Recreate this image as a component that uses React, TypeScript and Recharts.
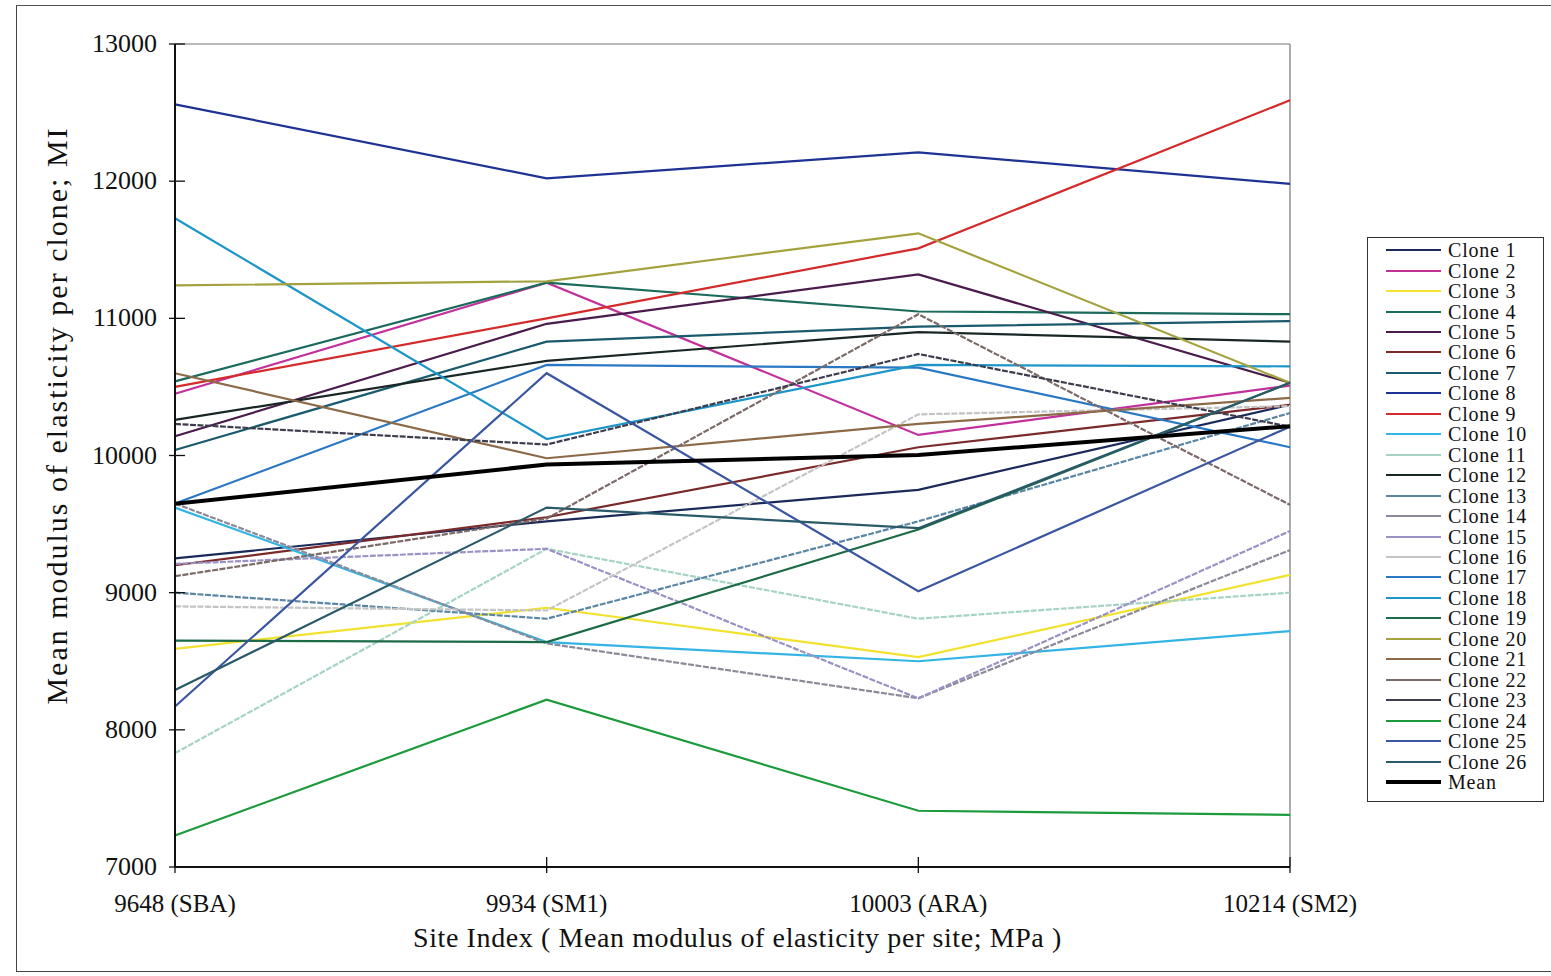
import { LineChart, Line, XAxis, YAxis, ReferenceLine, Label } from 'recharts';

// Site index (mean MOE per site) and site codes
const sites = ['9648 (SBA)', '9934 (SM1)', '10003 (ARA)', '10214 (SM2)'];
const yTicks = [7000, 8000, 9000, 10000, 11000, 12000, 13000];

// Mean MOE per clone at each site
const clone1 = [9250, 9520, 9750, 10370];
const clone2 = [10450, 11260, 10150, 10510];
const clone3 = [8590, 8890, 8530, 9130];
const clone4 = [10540, 11260, 11050, 11030];
const clone5 = [10140, 10960, 11320, 10530];
const clone6 = [9200, 9550, 10060, 10370];
const clone7 = [10040, 10830, 10940, 10980];
const clone8 = [12560, 12020, 12210, 11980];
const clone9 = [10500, 11000, 11510, 12590];
const clone10 = [9620, 8640, 8500, 8720];
const clone11 = [7830, 9320, 8810, 9000];
const clone12 = [10260, 10690, 10900, 10830];
const clone13 = [9000, 8810, 9520, 10310];
const clone14 = [9650, 8630, 8230, 9310];
const clone15 = [9210, 9320, 8230, 9450];
const clone16 = [8900, 8870, 10300, 10360];
const clone17 = [9650, 10660, 10640, 10060];
const clone18 = [11730, 10120, 10660, 10650];
const clone19 = [8650, 8640, 9460, 10530];
const clone20 = [11240, 11270, 11620, 10530];
const clone21 = [10600, 9980, 10230, 10420];
const clone22 = [9120, 9540, 11030, 9640];
const clone23 = [10230, 10080, 10740, 10210];
const clone24 = [7230, 8220, 7410, 7380];
const clone25 = [8170, 10600, 9010, 10210];
const clone26 = [8290, 9620, 9470, 10530];
const meanMoe = [9648, 9934, 10003, 10214];

const cloneValues = [
  clone1, clone2, clone3, clone4, clone5, clone6, clone7, clone8, clone9, clone10,
  clone11, clone12, clone13, clone14, clone15, clone16, clone17, clone18, clone19, clone20,
  clone21, clone22, clone23, clone24, clone25, clone26,
];

const cloneColors = [
  '#1c2a5a', '#c2309c', '#f2e22e', '#1b6a5c', '#4a1c4c', '#7a2a2a', '#1a5a6c', '#1e3294',
  '#d42a2a', '#34b4e4', '#a6d4c4', '#1a2626', '#5a86a4', '#8c8a98', '#9a92c4', '#c4c4c4',
  '#2a78c4', '#1c96c8', '#1c6a46', '#a4a23e', '#8c6a48', '#7a6a68', '#3c3c4c', '#1c9a3c',
  '#3a56a0', '#2a5a6a',
];

const dotted = [11, 13, 14, 15, 16, 22, 23];

const data = sites.map((site, i) => {
  const row: any = { site, mean: meanMoe[i] };
  cloneValues.forEach((vals, c) => {
    row[`c${c + 1}`] = vals[i];
  });
  return row;
});

const FONT = '"Liberation Serif", "Times New Roman", serif';

const XTick = ({ x, y, payload }: any) => (
  <g>
    <line x1={x} x2={x} y1={y - 10} y2={y + 6} stroke="#111" strokeWidth={1.3} />
    <text x={x} y={y + 45} textAnchor="middle" fontSize={25} fontFamily={FONT} fill="#111">
      {payload.value}
    </text>
  </g>
);

const YTick = ({ x, y, payload }: any) => (
  <g>
    <line x1={x - 6} x2={x + 10} y1={y} y2={y} stroke="#111" strokeWidth={1.3} />
    <text x={x - 18} y={y + 8} textAnchor="end" fontSize={26} fontFamily={FONT} fill="#111">
      {payload.value}
    </text>
  </g>
);

export default function App() {
  return (
    <div style={{ position: 'absolute', left: 0, top: 0, width: 1551, height: 976, background: '#fff', overflow: 'hidden' }}>
      <div
        style={{
          position: 'absolute', left: 16, top: 5, width: 1560, height: 965,
          borderLeft: '1.5px solid #444', borderTop: '1.5px solid #555', borderBottom: '1.5px solid #444',
        }}
      />
      <div style={{ position: 'absolute', left: 0, top: 0 }}>
        <LineChart width={1551} height={976} data={data} margin={{ top: 44, right: 261, bottom: 69, left: 95 }}>
          <XAxis
            dataKey="site"
            height={40}
            interval={0}
            tickSize={0}
            tickMargin={0}
            tickLine={false}
            axisLine={{ stroke: '#111', strokeWidth: 2 }}
            tick={<XTick />}
          >
            <Label
              content={(p: any) => {
                const vb = p.viewBox || { x: 175, y: 867, width: 1115 };
                return (
                  <text
                    x={vb.x + vb.width / 2 + 5}
                    y={947}
                    textAnchor="middle"
                    fontSize={28}
                    letterSpacing={0.6}
                    fontFamily={FONT}
                    fill="#111"
                  >
                    Site Index ( Mean modulus of elasticity per site; MPa )
                  </text>
                );
              }}
            />
          </XAxis>
          <YAxis
            width={80}
            domain={[7000, 13000]}
            ticks={yTicks}
            interval={0}
            tickSize={0}
            tickMargin={0}
            tickLine={false}
            axisLine={{ stroke: '#111', strokeWidth: 2 }}
            tick={<YTick />}
          >
            <Label
              content={(p: any) => {
                const vb = p.viewBox || { x: 95, y: 44, height: 823 };
                const cx = vb.x - 39;
                const cy = vb.y + vb.height / 2 - 40;
                return (
                  <text
                    x={cx}
                    y={cy}
                    transform={`rotate(-90 ${cx} ${cy})`}
                    textAnchor="middle"
                    dominantBaseline="central"
                    fontSize={30}
                    letterSpacing={2}
                    fontFamily={FONT}
                    fill="#111"
                  >
                    Mean modulus of elasticity per clone; MI
                  </text>
                );
              }}
            />
          </YAxis>
          <ReferenceLine y={13000} stroke="#777" strokeWidth={1.2} />
          <ReferenceLine x={sites[sites.length - 1]} stroke="#777" strokeWidth={1.2} />
          {cloneValues.map((_, c) => (
            <Line
              key={c}
              type="linear"
              dataKey={`c${c + 1}`}
              name={`Clone ${c + 1}`}
              stroke={cloneColors[c]}
              strokeWidth={2.2}
              strokeDasharray={dotted.includes(c + 1) ? '6 1.5' : undefined}
              dot={false}
              activeDot={false}
              isAnimationActive={false}
            />
          ))}
          <Line
            type="linear"
            dataKey="mean"
            name="Mean"
            stroke="#000"
            strokeWidth={4}
            dot={false}
            activeDot={false}
            isAnimationActive={false}
          />
        </LineChart>
      </div>
      <div
        style={{
          position: 'absolute', left: 1367, top: 237, width: 177, height: 565,
          border: '1.5px solid #333', boxSizing: 'border-box', paddingTop: 2,
          fontFamily: FONT, fontSize: 20, color: '#111',
        }}
      >
        {[...cloneValues.map((_, c) => ({ name: `Clone ${c + 1}`, color: cloneColors[c], w: 2 })), { name: 'Mean', color: '#000', w: 4 }].map(
          (item) => (
            <div key={item.name} style={{ display: 'flex', alignItems: 'center', height: 20.46, whiteSpace: 'nowrap' }}>
              <svg width={80} height={10} style={{ flex: 'none' }}>
                <line x1={18} x2={73} y1={5} y2={5} stroke={item.color} strokeWidth={item.w} />
              </svg>
              <span style={{ lineHeight: '20px', letterSpacing: 0.8 }}>{item.name}</span>
            </div>
          )
        )}
      </div>
    </div>
  );
}
